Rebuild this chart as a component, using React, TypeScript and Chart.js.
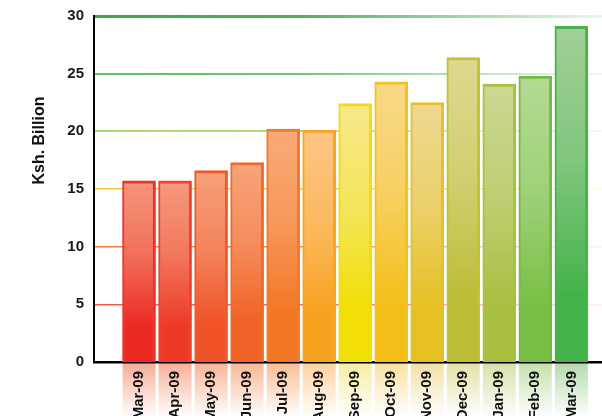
import React, { useEffect, useRef } from 'react';
import { Chart, registerables } from 'chart.js';

Chart.register(...registerables);

// Monthly amounts, Ksh. billion
const months = [
  'Mar-09', 'Apr-09', 'May-09', 'Jun-09', 'Jul-09', 'Aug-09', 'Sep-09',
  'Oct-09', 'Nov-09', 'Dec-09', 'Jan-09', 'Feb-09', 'Mar-09',
];
const amounts = [15.7, 15.7, 16.6, 17.3, 20.2, 20.1, 22.4, 24.3, 22.5, 26.4, 24.1, 24.8, 29.1];

// Bar shading: pale tint at the top, full colour at the base, darker edge
const topColors = [
  '#f5967a', '#f59a7c', '#f6a07a', '#f7a47a', '#f9ab78', '#fdc684', '#f6e88a',
  '#f8d988', '#eed891', '#dcd98f', '#cad891', '#b4da95', '#a1d096',
];
const baseColors = [
  '#ec2a24', '#ed3a25', '#ef5327', '#f06225', '#f27623', '#f7a21e', '#f1df06',
  '#f4bf18', '#e5c022', '#bbbd36', '#a8bf3f', '#79bf45', '#44b34b',
];
const edgeColors = [
  '#ea3428', '#ec4230', '#ee5a2c', '#f06a2c', '#f27a2c', '#f8a425', '#f5dc10',
  '#f4c21c', '#e5c02a', '#c2c235', '#a6c143', '#74bb44', '#48b34c',
];

// Horizontal reference lines, one colour per 5-unit step
const yTicks = [0, 5, 10, 15, 20, 25, 30];
const gridColors = ['#000000', '#ee5a48', '#f07a3c', '#f7c531', '#b5d56a', '#62bf6c', '#3aa84a'];
const gridWidths = [0, 1.5, 1.5, 1.5, 2, 2, 3];

const FONT = '"Liberation Sans", Arial, Helvetica, sans-serif';

function hexToRgb(hex: string): [number, number, number] {
  const n = parseInt(hex.slice(1), 16);
  return [(n >> 16) & 255, (n >> 8) & 255, n & 255];
}
function rgba(hex: string, a: number) {
  const [r, g, b] = hexToRgb(hex);
  return `rgba(${r},${g},${b},${a})`;
}
function mix(a: string, b: string, t: number) {
  const ca = hexToRgb(a);
  const cb = hexToRgb(b);
  const c = ca.map((v, i) => Math.round(v + (cb[i] - v) * t));
  return `rgb(${c[0]},${c[1]},${c[2]})`;
}

// Pale tinted strips behind each month label, fading to white
const labelStrips = {
  id: 'labelStrips',
  beforeDraw(chart: any) {
    const { ctx, chartArea } = chart;
    const meta = chart.getDatasetMeta(0);
    ctx.save();
    meta.data.forEach((bar: any, i: number) => {
      const { x, width } = bar.getProps(['x', 'width'], true);
      const g = ctx.createLinearGradient(0, chartArea.bottom, 0, chart.height);
      g.addColorStop(0, rgba(topColors[i], 0.8));
      g.addColorStop(1, rgba(topColors[i], 0.02));
      ctx.fillStyle = g;
      ctx.fillRect(x - width / 2, chartArea.bottom, width, chart.height - chartArea.bottom);
    });
    ctx.restore();
  },
};

// Vertical axis caption, set a little above the middle of the plot
const axisCaption = {
  id: 'axisCaption',
  afterDraw(chart: any) {
    const { ctx, chartArea } = chart;
    ctx.save();
    ctx.translate(chartArea.left - 54, chartArea.top + (chartArea.bottom - chartArea.top) * 0.36);
    ctx.rotate(-Math.PI / 2);
    ctx.font = `bold 16px ${FONT}`;
    ctx.fillStyle = '#111';
    ctx.textAlign = 'center';
    ctx.textBaseline = 'middle';
    ctx.fillText('Ksh. Billion', 0, 0);
    ctx.restore();
  },
};

export default function App() {
  const canvasRef = useRef<HTMLCanvasElement | null>(null);

  useEffect(() => {
    document.body.style.margin = '0';
    const canvas = canvasRef.current;
    if (!canvas) return;

    const chart = new Chart(canvas, {
      type: 'bar',
      data: {
        datasets: [
          {
            data: amounts.map((v, i) => ({ x: i, y: v })),
            barThickness: 33,
            backgroundColor: (ctx: any) => {
              const i = ctx.dataIndex;
              const chart = ctx.chart;
              if (ctx.type !== 'data' || !chart.chartArea) return baseColors[i ?? 0];
              const y = chart.scales.y;
              const top = y.getPixelForValue(amounts[i]);
              const bottom = y.getPixelForValue(0);
              const g = chart.ctx.createLinearGradient(0, top, 0, bottom);
              g.addColorStop(0, topColors[i]);
              g.addColorStop(0.4, mix(topColors[i], baseColors[i], 0.35));
              g.addColorStop(0.8, baseColors[i]);
              g.addColorStop(1, baseColors[i]);
              return g;
            },
            borderColor: edgeColors,
            borderWidth: { top: 3, right: 3, left: 2, bottom: 0 },
            borderSkipped: false,
          } as any,
        ],
      },
      options: {
        animation: false,
        responsive: false,
        layout: { padding: { top: 16, right: 0, left: 0, bottom: 0 } },
        plugins: { legend: { display: false }, tooltip: { enabled: false } },
        scales: {
          x: {
            type: 'linear',
            min: -1.25,
            max: 12.85,
            offset: false,
            afterFit: (scale: any) => {
              scale.height = 54;
              scale.paddingLeft = 0;
              scale.paddingRight = 0;
            },
            grid: { display: false, drawTicks: false },
            border: { display: true, color: '#000', width: 2.5 },
            ticks: {
              stepSize: 1,
              autoSkip: false,
              minRotation: 90,
              maxRotation: 90,
              padding: 9,
              color: '#111',
              font: { family: FONT, size: 15, weight: 'bold' },
              callback: (v: any) => {
                const n = Number(v);
                return Number.isInteger(n) && n >= 0 && n < months.length ? months[n] : '';
              },
            },
          },
          y: {
            min: yTicks[0],
            max: yTicks[yTicks.length - 1],
            afterFit: (scale: any) => {
              scale.width = 94;
              scale.paddingTop = 0;
              scale.paddingBottom = 0;
            },
            border: { display: true, color: '#000', width: 2 },
            grid: {
              drawTicks: false,
              lineWidth: (ctx: any) => gridWidths[yTicks.indexOf(ctx.tick?.value)] ?? 0,
              color: (ctx: any) => {
                const idx = yTicks.indexOf(ctx.tick?.value);
                const col = gridColors[idx] ?? '#000000';
                const area = ctx.chart.chartArea;
                if (idx <= 0 || !area) return 'rgba(0,0,0,0)';
                const g = ctx.chart.ctx.createLinearGradient(area.left, 0, area.right, 0);
                g.addColorStop(0, rgba(col, 1));
                g.addColorStop(0.4, rgba(col, 0.9));
                g.addColorStop(1, rgba(col, 0.1));
                return g;
              },
            },
            ticks: {
              stepSize: 5,
              padding: 10,
              color: '#1a1a1a',
              font: { family: FONT, size: 15, weight: 'bold' },
            },
          },
        },
      },
      plugins: [labelStrips, axisCaption],
    } as any);

    return () => chart.destroy();
  }, []);

  return (
    <div style={{ width: 602, height: 416, background: '#fff', overflow: 'hidden' }}>
      <canvas ref={canvasRef} width={602} height={416} style={{ display: 'block' }} />
    </div>
  );
}
